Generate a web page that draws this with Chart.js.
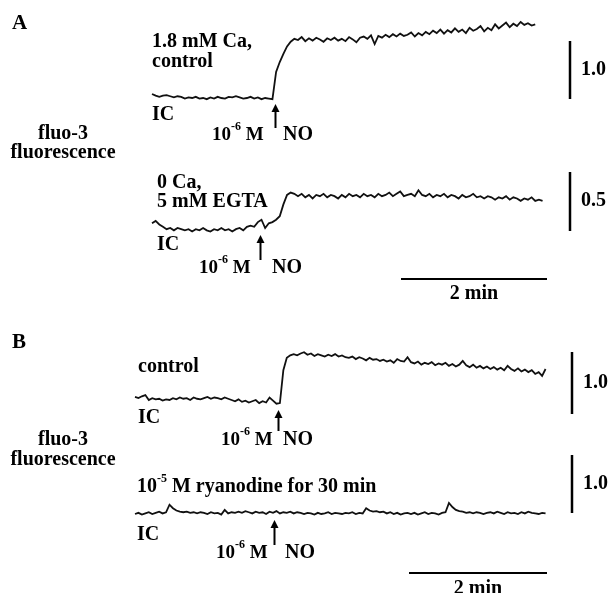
<!DOCTYPE html>
<html>
<head>
<meta charset="utf-8">
<script src="https://cdn.jsdelivr.net/npm/chart.js@4"></script>
<style>
  html, body { margin: 0; padding: 0; background: #fff; }
  canvas { display: block; }
</style>
</head>
<body>
<canvas id="traceChart" width="610" height="593"></canvas>
<script>
const sampleStep = 3;

// A, 1.8 mM Ca, control
const caControl = [
  .07,.04,.02,.04,.05,.03,.01,.03,.02,-.01,
  .01,.00,.02,-.01,.00,-.02,.01,-.01,.02,.00,
  -.01,.02,.01,.03,.01,-.01,.00,.02,-.01,.01,
  -.02,.00,-.01,-.02,.45,.62,.76,.89,.97,1.02,
  1.00,1.05,.98,1.03,.99,1.04,1.01,.97,1.03,1.00,
  1.04,.99,1.02,.98,1.05,1.01,.96,1.04,1.06,1.02,
  1.08,.93,1.07,1.04,1.09,1.05,1.10,1.06,1.11,1.07,
  1.09,1.13,1.06,1.12,1.08,1.14,1.10,1.16,1.12,1.18,
  1.11,1.17,1.13,1.20,1.14,1.18,1.12,1.21,1.16,1.19,
  1.24,1.15,1.21,1.17,1.27,1.20,1.25,1.30,1.22,1.28,
  1.24,1.31,1.26,1.29,1.25,1.27
];

// A, 0 Ca + 5 mM EGTA
const egtaTrace = [
  .04,.06,.03,.01,-.01,.00,-.02,.00,-.01,-.02,
  -.01,-.03,-.01,-.02,.00,-.02,-.03,-.01,-.02,.00,
  -.02,-.01,-.03,-.01,.00,-.02,.01,.02,.01,.05,
  .07,.00,.04,.05,.07,.10,.20,.28,.30,.29,
  .27,.29,.26,.28,.25,.28,.27,.29,.26,.28,
  .27,.25,.28,.26,.29,.27,.28,.26,.29,.27,
  .28,.26,.29,.27,.28,.30,.27,.29,.31,.27,
  .28,.29,.27,.32,.28,.27,.29,.26,.28,.27,
  .29,.26,.28,.27,.25,.28,.26,.27,.29,.26,
  .27,.25,.27,.26,.24,.26,.25,.27,.24,.26,
  .25,.23,.25,.24,.26,.23,.24,.23
];

// B, control
const bControl = [
  .05,.03,.06,.08,.00,.03,.01,.02,-.01,.01,
  .00,.03,.01,.04,.02,.03,.00,.04,.02,.01,
  .03,.05,.02,.04,.03,.01,.04,.02,.00,-.02,
  .01,-.03,-.01,-.04,-.02,.00,-.05,-.02,-.04,.04,
  -.01,-.06,-.05,.48,.68,.72,.74,.72,.75,.77,
  .73,.75,.71,.74,.72,.70,.73,.71,.74,.70,
  .72,.69,.68,.70,.66,.69,.67,.64,.68,.65,
  .66,.63,.65,.62,.64,.60,.66,.63,.62,.69,
  .61,.59,.62,.57,.60,.58,.61,.56,.59,.57,
  .60,.55,.58,.54,.57,.63,.56,.53,.57,.52,
  .55,.51,.54,.50,.53,.49,.52,.48,.55,.50,
  .47,.51,.46,.49,.45,.48,.42,.45,.39,.50
];

// B, 10^-5 M ryanodine for 30 min
const ryanodine = [
  .00,.02,-.01,.01,.03,.00,.02,.04,.01,.03,
  .16,.10,.06,.04,.03,.04,.02,.03,.01,.03,
  .02,.00,.03,.01,.02,-.01,.07,.01,.03,.02,
  .04,.02,.05,.03,.01,.04,.02,.03,.00,.04,
  .02,.05,.01,.03,.02,.04,.01,.03,.02,.00,
  .02,.01,-.01,.02,.00,.01,.03,.00,.02,.01,
  .00,.02,.01,.03,.00,.02,.01,.10,.06,.04,
  .05,.03,.04,.01,.03,.00,.02,-.01,.01,.02,
  .00,.02,-.01,.01,.03,.00,.02,.01,-.01,.02,
  .03,.19,.12,.07,.05,.04,.02,.03,.01,.03,
  .02,.00,.02,.03,.01,.04,.02,.00,.03,.01,
  .02,.00,.03,.01,.04,.02,.01,.00,.02,.01
];

// NO (10^-6 M) application time for each trace, s
const noTimes = [101, 89, 124, 121];
// calibration bars: amplitude per trace, time bar in s
const ampBars = [1.0, 0.5, 1.0, 1.0];
const timeBar = 120;

// ---- page layout (pixels) ----
const W = 610, H = 593;
const xFrames = {
  xA: { origin: 152, pxPerSec: 146 / 120 },
  xB: { origin: 135, pxPerSec: 138 / 120 }
};
const yFrames = {
  yA1: { base: 98, pxPerUnit: 58 },
  yA2: { base: 228, pxPerUnit: 118 },
  yB1: { base: 400, pxPerUnit: 62 },
  yB2: { base: 514, pxPerUnit: 58 }
};
const serif = '"Liberation Serif", "Times New Roman", serif';
const fs = 20;

function toPoints(arr) {
  return arr.map((v, i) => ({ x: i * sampleStep, y: v }));
}

const scales = {};
Object.entries(xFrames).forEach(([id, f]) => {
  scales[id] = { type: 'linear', display: false, min: -f.origin / f.pxPerSec, max: (W - f.origin) / f.pxPerSec };
});
Object.entries(yFrames).forEach(([id, f]) => {
  scales[id] = { type: 'linear', display: false, min: -(H - f.base) / f.pxPerUnit, max: f.base / f.pxPerUnit };
});

const traces = [
  { data: caControl, x: 'xA', y: 'yA1' },
  { data: egtaTrace, x: 'xA', y: 'yA2' },
  { data: bControl, x: 'xB', y: 'yB1' },
  { data: ryanodine, x: 'xB', y: 'yB2' }
];

const arrows = [
  { x: 'xA', top: 104, bottom: 128 },
  { x: 'xA', top: 235, bottom: 260 },
  { x: 'xB', top: 410, bottom: 431 },
  { x: 'xB', top: 520, bottom: 545 }
];
const ampBarPos = [
  { y: 'yA1', x: 570, bottom: 99, labelY: 70 },
  { y: 'yA2', x: 570, bottom: 231, labelY: 201 },
  { y: 'yB1', x: 572, bottom: 414, labelY: 383 },
  { y: 'yB2', x: 572, bottom: 513, labelY: 484 }
];
const timeBarPos = [
  { x: 'xA', left: 401, y: 279, labelY: 294 },
  { x: 'xB', left: 409, y: 573, labelY: 589 }
];

const labels = [
  ['A', 12, 24, 21], ['B', 12, 343, 21],
  ['1.8 mM Ca,', 152, 42], ['control', 152, 62], ['IC', 152, 115],
  ['0 Ca,', 157, 183], ['5 mM EGTA', 157, 202], ['IC', 157, 245],
  ['control', 138, 367], ['IC', 138, 418], ['IC', 137, 535],
  ['NO', 283, 135], ['NO', 272, 268], ['NO', 283, 440], ['NO', 285, 553]
];
const centred = [
  ['fluo-3', 63, 134], ['fluorescence', 63, 153],
  ['fluo-3', 63, 440], ['fluorescence', 63, 460]
];
const molarLabels = [
  [212, 135], [199, 268], [221, 440], [216, 553]
];

function richText(ctx, parts, x, y, size) {
  parts.forEach(([str, sup]) => {
    ctx.font = 'bold ' + (sup ? 12 : size) + 'px ' + serif;
    ctx.fillText(str, x, sup ? y - 8 : y);
    x += ctx.measureText(str).width;
  });
}

const figureMarks = {
  id: 'figureMarks',
  afterDraw(chart) {
    const ctx = chart.ctx;
    const s = chart.scales;
    ctx.save();
    ctx.fillStyle = '#000';
    ctx.strokeStyle = '#000';
    ctx.textBaseline = 'middle';
    ctx.lineCap = 'butt';

    // NO arrows
    arrows.forEach((a, i) => {
      const px = Math.round(s[a.x].getPixelForValue(noTimes[i])) + 0.5;
      ctx.lineWidth = 2;
      ctx.beginPath();
      ctx.moveTo(px, a.bottom);
      ctx.lineTo(px, a.top + 5);
      ctx.stroke();
      ctx.beginPath();
      ctx.moveTo(px, a.top);
      ctx.lineTo(px - 4, a.top + 8);
      ctx.lineTo(px + 4, a.top + 8);
      ctx.closePath();
      ctx.fill();
    });

    // amplitude calibration bars
    ampBarPos.forEach((b, i) => {
      const sc = s[b.y];
      const len = sc.getPixelForValue(0) - sc.getPixelForValue(ampBars[i]);
      ctx.lineWidth = 2.5;
      ctx.beginPath();
      ctx.moveTo(b.x, b.bottom);
      ctx.lineTo(b.x, b.bottom - len);
      ctx.stroke();
      ctx.font = 'bold ' + fs + 'px ' + serif;
      ctx.textAlign = 'left';
      ctx.fillText(ampBars[i].toFixed(1), b.x + 11, b.labelY);
    });

    // time calibration bars
    timeBarPos.forEach(b => {
      const sc = s[b.x];
      const len = sc.getPixelForValue(timeBar) - sc.getPixelForValue(0);
      ctx.lineWidth = 2;
      ctx.beginPath();
      ctx.moveTo(b.left, b.y);
      ctx.lineTo(b.left + len, b.y);
      ctx.stroke();
      ctx.font = 'bold ' + fs + 'px ' + serif;
      ctx.textAlign = 'center';
      ctx.fillText((timeBar / 60) + ' min', b.left + len / 2, b.labelY);
    });

    ctx.textAlign = 'left';
    labels.forEach(([t, x, y, size]) => {
      ctx.font = 'bold ' + (size || fs) + 'px ' + serif;
      ctx.fillText(t, x, y);
    });
    molarLabels.forEach(([x, y]) => richText(ctx, [['10'], ['-6', true], [' M']], x, y, 19));
    richText(ctx, [['10'], ['-5', true], [' M ryanodine for 30 min']], 137, 487, fs);

    ctx.textAlign = 'center';
    ctx.font = 'bold ' + fs + 'px ' + serif;
    centred.forEach(([t, x, y]) => ctx.fillText(t, x, y));
    ctx.restore();
  }
};

new Chart(document.getElementById('traceChart').getContext('2d'), {
  type: 'line',
  data: {
    datasets: traces.map(t => ({
      data: toPoints(t.data),
      xAxisID: t.x,
      yAxisID: t.y,
      borderColor: '#111',
      borderWidth: 1.8,
      pointRadius: 0,
      tension: 0,
      fill: false
    }))
  },
  options: {
    responsive: false,
    animation: false,
    layout: { padding: 0 },
    plugins: { legend: { display: false }, tooltip: { enabled: false } },
    scales: scales
  },
  plugins: [figureMarks]
});
</script>
</body>
</html>
